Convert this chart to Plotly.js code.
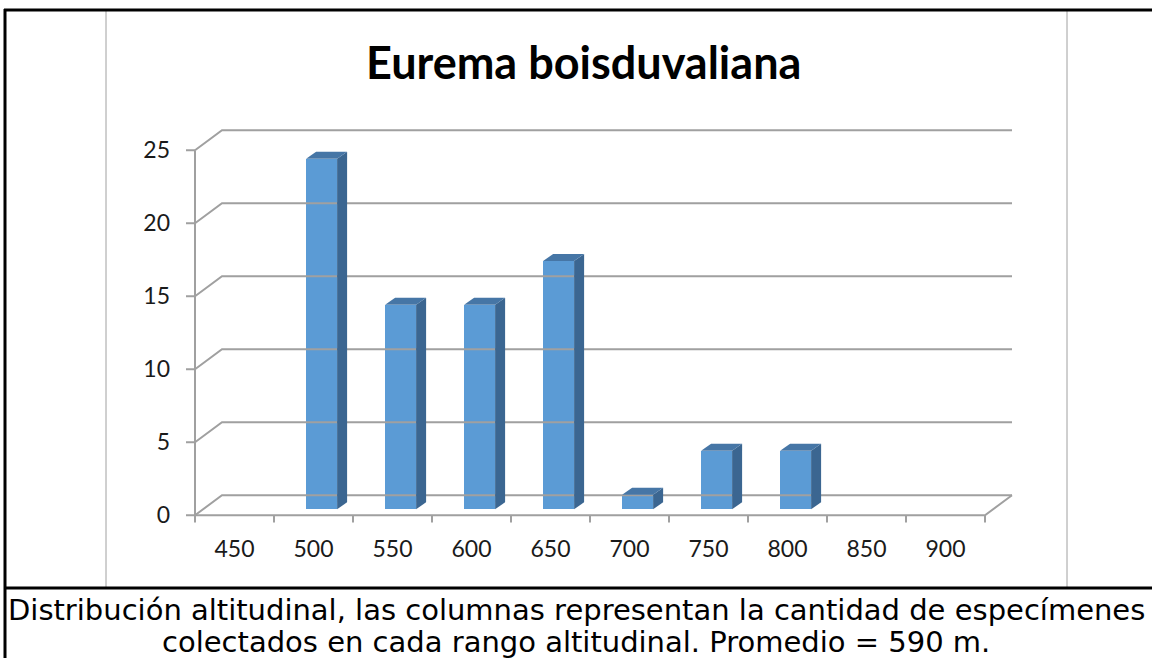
<!DOCTYPE html>
<html>
<head>
<meta charset="utf-8">
<script src="https://cdn.plot.ly/plotly-3.0.1.min.js"></script>
<style>
html,body{margin:0;padding:0;background:#fff;}
#chart{width:1152px;height:658px;}
</style>
</head>
<body>
<div id="chart"></div>
<script>
// ---- data ----
const categories = ['450','500','550','600','650','700','750','800','850','900'];
const counts = [0, 24, 14, 14, 17, 1, 4, 4, 0, 0];
const yTickVals = [0, 5, 10, 15, 20, 25];
const chartTitle = 'Eurema boisduvaliana';
const captionLines = [
  'Distribución altitudinal, las columnas representan la cantidad de especímenes',
  'colectados en cada rango altitudinal. Promedio = 590 m.'
];

// ---- geometry / style ----
const W = 1152, H = 658;
const M = {l:185, r:135, t:127, b:134};
const pxPerX = 79, pxPerY = 14.6;
const xr = [-0.5 - 10/pxPerX, -0.5 + (W - M.l - M.r - 10)/pxPerX];
const yr = [-0.6, -0.6 + (H - M.t - M.b)/pxPerY];
const DX = 27/pxPerX, DY = 20/pxPerY;     // depth of the 3D box
const FX = 0.3*DX, FY = 0.3*DY;           // bar front plane
const BW = 31/pxPerX;                      // bar width
const SX = 10/pxPerX, SY = 7/pxPerY;       // bar depth
const gridColor = '#a0a0a0';
const n = categories.length;
const xLeft = -0.5, xRight = n - 0.5;

const traces = [];
function seg(xs, ys, color, width){
  traces.push({type:'scatter', mode:'lines', x:xs, y:ys, hoverinfo:'skip',
    line:{color:color, width:width}, showlegend:false});
}
// back wall gridlines + left wall diagonals
yTickVals.forEach(v => {
  seg([xLeft, xLeft+DX, xRight+DX], [v, v+DY, v+DY], gridColor, 2);
});
// floor front edge and right diagonal
seg([xLeft, xRight, xRight+DX], [0, 0, DY], gridColor, 2);
// front vertical axis
seg([xLeft, xLeft], [0, yTickVals[yTickVals.length-1]], gridColor, 2);
// y tick marks
yTickVals.forEach(v => seg([xLeft - 9/pxPerX, xLeft], [v, v], gridColor, 2));
// x tick marks at category boundaries
for (let i = 0; i <= n; i++) {
  const b = xLeft + i;
  seg([b, b], [0, -0.5], gridColor, 2);
}

// bars: front faces
traces.push({type:'bar', x:counts.map((_, i) => i + FX), y:counts, base:FY,
  width:BW, marker:{color:'#5B9BD5', line:{width:0}}, hoverinfo:'skip', showlegend:false});

// side and top faces
counts.forEach((v, i) => {
  if (!v) return;
  const x0 = i + FX - BW/2, x1 = i + FX + BW/2;
  const yb = FY, yt = FY + v;
  traces.push({type:'scatter', mode:'lines', fill:'toself', fillcolor:'#3B6691',
    line:{width:0, color:'#3B6691'}, hoverinfo:'skip', showlegend:false,
    x:[x1, x1+SX, x1+SX, x1, x1], y:[yb, yb+SY, yt+SY, yt, yb]});
  traces.push({type:'scatter', mode:'lines', fill:'toself', fillcolor:'#4676A6',
    line:{width:0, color:'#4676A6'}, hoverinfo:'skip', showlegend:false,
    x:[x0, x1, x1+SX, x0+SX, x0], y:[yt, yt, yt+SY, yt+SY, yt]});
});

// pixel -> paper helpers
const pw = W - M.l - M.r, ph = H - M.t - M.b;
const PX = p => (p - M.l)/pw;
const PY = p => (H - M.b - p)/ph;

const shapes = [];
function pline(x0, y0, x1, y1, color, width){
  shapes.push({type:'line', xref:'paper', yref:'paper', x0:PX(x0), y0:PY(y0), x1:PX(x1), y1:PY(y1),
    line:{color:color, width:width}});
}
pline(106, 10, 106, 588, '#a0a0a0', 1);
pline(1067, 10, 1067, 588, '#a0a0a0', 1);
pline(4, 10, 1152, 10, '#000', 3);
pline(5, 9, 5, 658, '#000', 3);
pline(4, 588, 1152, 588, '#000', 3);

const annotations = [
  {xref:'paper', yref:'paper', x:PX(583), y:PY(62), xanchor:'center', yanchor:'middle',
   text:'<b>'+chartTitle+'</b>', showarrow:false, font:{family:'Lato', size:45, color:'#000'}},
  {xref:'paper', yref:'paper', x:PX(576), y:PY(610), xanchor:'center', yanchor:'middle',
   text:captionLines[0], showarrow:false, font:{family:'DejaVu Sans', size:29, color:'#000'}},
  {xref:'paper', yref:'paper', x:PX(576), y:PY(642), xanchor:'center', yanchor:'middle',
   text:captionLines[1], showarrow:false, font:{family:'DejaVu Sans', size:29, color:'#000'}}
];

const layout = {
  width:W, height:H, margin:M,
  paper_bgcolor:'#fff', plot_bgcolor:'rgba(0,0,0,0)',
  showlegend:false, bargap:0,
  xaxis:{range:xr, tickvals:categories.map((_, i) => i), ticktext:categories, ticks:'',
    showgrid:false, zeroline:false, showline:false, ticklabelstandoff:9,
    tickfont:{family:'Lato', size:23, color:'#1a1a1a'}, fixedrange:true},
  yaxis:{range:yr, tickvals:yTickVals, ticks:'', showgrid:false, zeroline:false, showline:false,
    ticklabelstandoff:14, tickfont:{family:'Lato', size:23, color:'#1a1a1a'}, fixedrange:true},
  shapes:shapes, annotations:annotations
};

Plotly.newPlot('chart', traces, layout, {displayModeBar:false, staticPlot:true});
</script>
</body>
</html>
